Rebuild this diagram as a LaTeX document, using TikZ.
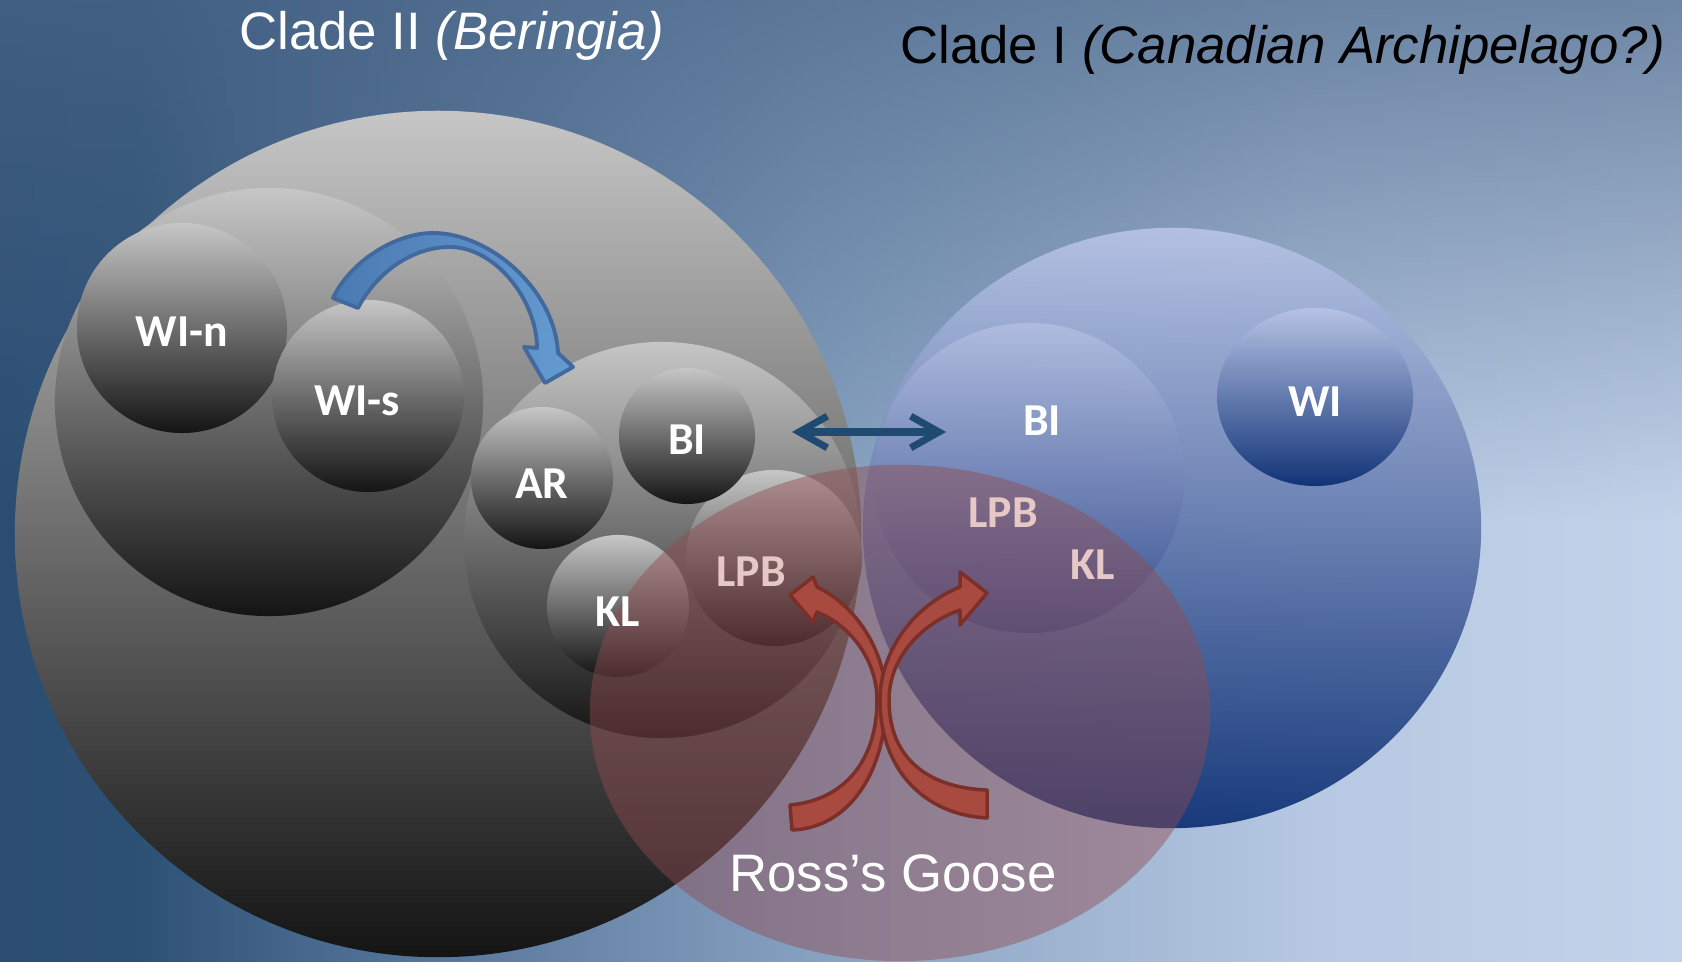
\documentclass[tikz,border=0pt]{standalone}
\usepackage{fontspec}
\setmainfont{Liberation Sans}
\newfontfamily\tagfont{Carlito}
\usetikzlibrary{arrows.meta, fadings, shapes.geometric}

\definecolor{bgA}{HTML}{2B4D72}
\definecolor{bgB}{HTML}{2C5074}
\definecolor{bgC}{HTML}{47678D}
\definecolor{bgD}{HTML}{86A0C0}
\definecolor{bgE}{HTML}{B6C8E2}
\definecolor{bgF}{HTML}{C3D3EA}
\definecolor{bgTop}{HTML}{4A6688}
\definecolor{ballTop}{HTML}{C6C6C6}
\definecolor{ballBot}{HTML}{141414}
\definecolor{cladeTop}{HTML}{B8C4E6}
\definecolor{cladeBot}{HTML}{0C2F74}
\definecolor{innerTop}{HTML}{C0CBEA}
\definecolor{innerBot}{HTML}{2A3F86}
\definecolor{rossFill}{HTML}{914B50}
\definecolor{pinkTag}{HTML}{E6C9C6}
\definecolor{swapBlue}{HTML}{1F4A72}
\definecolor{moveL}{HTML}{4A7AB2}
\definecolor{moveR}{HTML}{659BD2}
\definecolor{moveEdge}{HTML}{41699E}
\definecolor{gooseRed}{HTML}{A84A40}
\definecolor{gooseEdge}{HTML}{7A3028}

\pgfdeclarehorizontalshading{skyshade}{100bp}{color(0bp)=(bgA); color(25bp)=(bgA); color(29bp)=(bgB); color(34bp)=(bgC); color(49bp)=(bgD); color(64bp)=(bgE); color(75bp)=(bgF); color(100bp)=(bgF)}

\tikzset{
  ball/.style={circle, inner sep=0pt, top color=ballTop, bottom color=ballBot},
  blueball/.style={ellipse, inner sep=0pt, top color=cladeTop, bottom color=cladeBot},
  tag/.style={font=\tagfont\bfseries\fontsize{13}{15}\selectfont, text=white, anchor=base},
  title/.style={font=\fontsize{15}{18}\selectfont, anchor=base},
  moveArrow/.style={left color=moveL, right color=moveR, draw=moveEdge, line width=1.1pt, line join=round},
  gooseArrow/.style={fill=gooseRed, draw=gooseEdge, line width=1pt, line join=round}
}

\begin{document}
\begin{tikzpicture}[x=0.01cm, y=-0.01cm, >={Straight Barb[length=8pt,width=9pt]}]
  \useasboundingbox (0,0) rectangle (1682,962);

  % Background
  \shade[shading=skyshade] (0,0) rectangle (1682,962);
  \fill[bgTop, path fading=south, fill opacity=0.7] (0,0) rectangle (1682,520);

  % Clade II
  \node[ball, minimum size=8.46cm] (cladeII) at (438,534) {};
  \node[ball, minimum size=4.28cm] (westGrp) at (269,402) {};
  \node[ball, minimum size=2.10cm] (WIn) at (182,328) {};
  \node[ball, minimum size=1.92cm] (WIs) at (368,396) {};
  \node[ball, minimum size=3.96cm] (eastGrp) at (662,540) {};
  \node[ball, minimum size=1.42cm] (AR) at (542,478) {};
  \node[ball, minimum size=1.76cm] (LPB) at (774,558) {};
  \node[ball, minimum size=1.42cm] (KL) at (618,606) {};
  \node[ball, minimum size=1.36cm] (BI) at (687,436) {};

  % Clade I
  \node[blueball, fill opacity=0.92, minimum width=6.18cm, minimum height=6.00cm] (cladeI) at (1172,528) {};
  \node[ellipse, inner sep=0pt, top color=innerTop, bottom color=innerBot, fill opacity=0.55, minimum size=3.10cm] (innerGrp) at (1029,478) {};
  \node[blueball, fill opacity=0.95, minimum width=1.96cm, minimum height=1.78cm] (WI) at (1315,397) {};

  % Ross's Goose
  \node[ellipse, inner sep=0pt, fill=rossFill, fill opacity=0.45, minimum width=6.20cm, minimum height=4.96cm] (ross) at (900,713) {};

  % Arrows
  \draw[moveArrow] (333,298) .. controls (350,262) and (395,233) .. (433,233)
    .. controls (490,233) and (555,290) .. (558,353) -- (573,367) -- (545,383) -- (524,347) -- (537,348)
    .. controls (537,300) and (495,247) .. (450,247) .. controls (410,247) and (375,275) .. (358,308) -- cycle;

  \coordinate (swapL) at (792,432);
  \coordinate (swapR) at (946,432);
  \draw[<->, swapBlue, line width=2pt] (swapL) -- (swapR);

  \draw[gooseArrow] (792,830) .. controls (850,828) and (886,770) .. (886,700)
    .. controls (886,650) and (855,605) .. (817,587) -- (813,577) -- (790,595) -- (813,622) -- (817,612)
    .. controls (850,625) and (877,660) .. (877,700) .. controls (877,760) and (845,800) .. (790,805) -- cycle;
  \draw[gooseArrow] (987,818) .. controls (925,815) and (880,770) .. (880,700)
    .. controls (880,650) and (915,605) .. (960,587) -- (960,572) -- (987,593) -- (960,625) -- (960,610)
    .. controls (925,622) and (889,655) .. (889,700) .. controls (889,760) and (930,788) .. (987,790) -- cycle;

  % Labels
  \node[tag] (tWIn) at (182,347) {WI-n};
  \node[tag] (tWIs) at (357,416) {WI-s};
  \node[tag] (tAR) at (542,499) {AR};
  \node[tag] (tBI) at (687,455) {BI};
  \node[tag] (tKL) at (618,627) {KL};
  \node[tag, text=pinkTag] (tLPB) at (751,587) {LPB};
  \node[tag] (tBIr) at (1042,436) {BI};
  \node[tag] (tWIr) at (1315,417) {WI};
  \node[tag, text=pinkTag] (tLPBr) at (1003,528) {LPB};
  \node[tag, text=pinkTag] (tKLr) at (1093,580) {KL};

  \node[title, text=white] (cladeIIlbl) at (452,50) {Clade II \textit{(Beringia)}};
  \node[title, text=black] (cladeIlbl) at (1283,64) {Clade I \textit{(Canadian Archipelago?)}};
  \node[title, text=white] (rossLbl) at (893,892) {Ross’s Goose};
\end{tikzpicture}
\end{document}
